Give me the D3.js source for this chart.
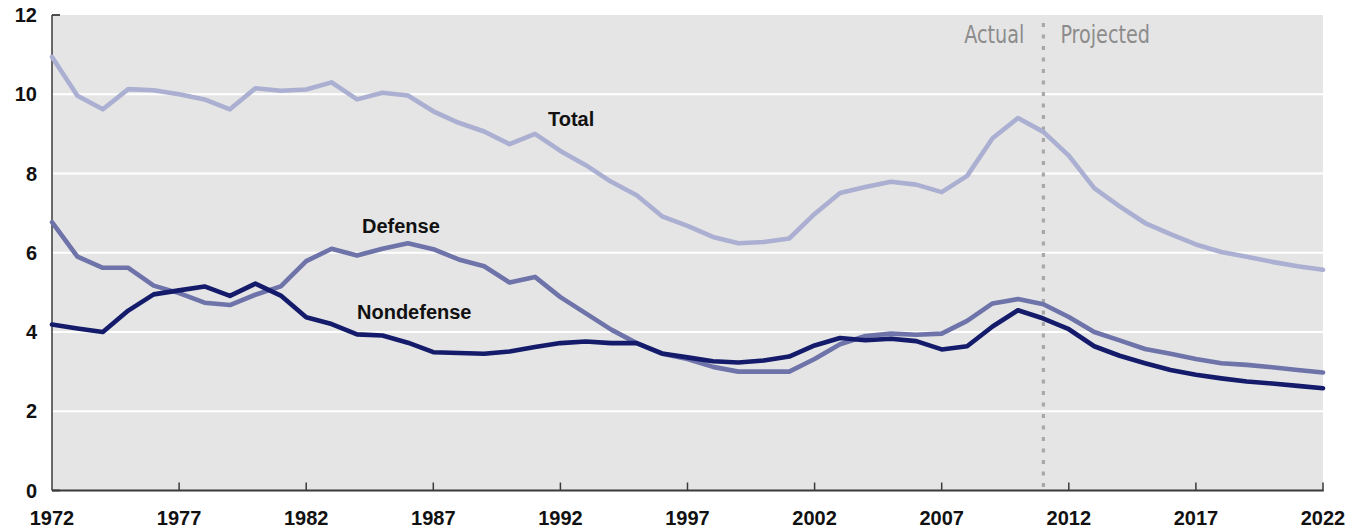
<!DOCTYPE html>
<html>
<head>
<meta charset="utf-8">
<script src="https://cdn.jsdelivr.net/npm/d3@7"></script>
<style>
  body { margin: 0; background: #fff; }
  svg { display: block; }
  .tick-label { font-family: "Liberation Sans", Arial, sans-serif; font-weight: bold; font-size: 20px; fill: #111; }
  .series-label { font-family: "Liberation Sans", Arial, sans-serif; font-weight: bold; font-size: 20px; fill: #111; }
  .period-label { font-family: "Liberation Sans Narrow", "DejaVu Sans Condensed", sans-serif; font-size: 24px; fill: #8c8c8c; }
</style>
</head>
<body>
<div id="chart"></div>
<script>
// years 1972..2022
const years = d3.range(1972, 2023);

const total = [
  10.94, 9.96, 9.62, 10.13, 10.10, 10.00, 9.87, 9.62, 10.15, 10.09,
  10.12, 10.30, 9.87, 10.04, 9.97, 9.57, 9.28, 9.06, 8.74, 9.00,
  8.57, 8.21, 7.79, 7.45, 6.92, 6.68, 6.40, 6.24, 6.27, 6.36,
  6.98, 7.51, 7.66, 7.79, 7.72, 7.53, 7.94, 8.89, 9.40, 9.05,
  8.45, 7.63, 7.17, 6.75, 6.47, 6.21, 6.02, 5.90, 5.77, 5.66,
  5.57
];

const defense = [
  6.77, 5.90, 5.62, 5.62, 5.17, 4.98, 4.74, 4.68, 4.94, 5.15,
  5.79, 6.10, 5.93, 6.10, 6.24, 6.09, 5.83, 5.66, 5.25, 5.39,
  4.88, 4.47, 4.06, 3.72, 3.45, 3.32, 3.12, 3.00, 3.00, 3.00,
  3.32, 3.69, 3.90, 3.96, 3.93, 3.96, 4.28, 4.72, 4.83, 4.70,
  4.38, 4.00, 3.79, 3.57, 3.45, 3.32, 3.21, 3.17, 3.11, 3.04,
  2.98
];

const nondefense = [
  4.19, 4.09, 4.00, 4.54, 4.95, 5.05, 5.15, 4.91, 5.22, 4.92,
  4.37, 4.20, 3.94, 3.91, 3.73, 3.49, 3.47, 3.45, 3.51, 3.62,
  3.72, 3.76, 3.72, 3.72, 3.46, 3.36, 3.26, 3.23, 3.28, 3.38,
  3.66, 3.85, 3.79, 3.83, 3.77, 3.56, 3.64, 4.14, 4.55, 4.34,
  4.07, 3.64, 3.40, 3.21, 3.04, 2.92, 2.83, 2.75, 2.70, 2.64,
  2.58
];

const yTicks = [0, 2, 4, 6, 8, 10, 12];
const xTicks = [1972, 1977, 1982, 1987, 1992, 1997, 2002, 2007, 2012, 2017, 2022];
const splitYear = 2011;

const series = [
  { name: "Total", values: total, color: "#abafd1" },
  { name: "Defense", values: defense, color: "#6e73a9" },
  { name: "Nondefense", values: nondefense, color: "#141b6b" }
];

// label spots (px)
const labelPos = {
  Total: [548, 126],
  Defense: [362, 233],
  Nondefense: [357, 319]
};

const W = 1359, H = 529;
const margin = { top: 15, right: 36, bottom: 38.5, left: 52 };

const svg = d3.select("#chart")
  .append("svg")
  .attr("width", W)
  .attr("height", H);

const x = d3.scaleLinear()
  .domain([1972, 2022])
  .range([margin.left, W - margin.right]);

const y = d3.scaleLinear()
  .domain([0, 12])
  .range([H - margin.bottom, margin.top]);

// plot background
svg.append("rect")
  .attr("x", x(1972))
  .attr("y", y(12))
  .attr("width", x(2022) - x(1972))
  .attr("height", y(0) - y(12))
  .attr("fill", "#e5e5e5");

// gridlines
svg.selectAll("line.grid")
  .data(yTicks.filter(d => d > 0 && d < 12))
  .enter()
  .append("line")
    .attr("class", "grid")
    .attr("x1", x(1972))
    .attr("x2", x(2022))
    .attr("y1", d => y(d))
    .attr("y2", d => y(d))
    .attr("stroke", "#fff")
    .attr("stroke-width", 1.8);

// actual / projected divider
svg.append("line")
  .attr("x1", x(splitYear))
  .attr("x2", x(splitYear))
  .attr("y1", y(11.8))
  .attr("y2", y(0))
  .attr("stroke", "#a8a8a8")
  .attr("stroke-width", 3.2)
  .attr("stroke-dasharray", "4,7.5");

// condensed look for the period labels
const sx = 0.89;
svg.append("text")
  .attr("class", "period-label")
  .attr("transform", `scale(${sx},1)`)
  .attr("x", (x(splitYear) - 19) / sx)
  .attr("y", 43)
  .attr("text-anchor", "end")
  .text("Actual");

svg.append("text")
  .attr("class", "period-label")
  .attr("transform", `scale(${sx},1)`)
  .attr("x", (x(splitYear) + 17) / sx)
  .attr("y", 43)
  .text("Projected");

// axes
const axisColor = "#3a3a3a";

svg.append("line")
  .attr("x1", x(1972))
  .attr("x2", x(1972))
  .attr("y1", y(12))
  .attr("y2", y(0))
  .attr("stroke", axisColor)
  .attr("stroke-width", 1.5);

svg.append("line")
  .attr("x1", x(1972))
  .attr("x2", x(2022) + 0.75)
  .attr("y1", y(0))
  .attr("y2", y(0))
  .attr("stroke", axisColor)
  .attr("stroke-width", 1.8);

// y end ticks point inward
svg.selectAll("line.ytick")
  .data([0, 12])
  .enter()
  .append("line")
    .attr("x1", x(1972))
    .attr("x2", x(1972) + 8)
    .attr("y1", d => y(d))
    .attr("y2", d => y(d))
    .attr("stroke", axisColor)
    .attr("stroke-width", 1.8);

svg.selectAll("line.xtick")
  .data(xTicks.slice(1))
  .enter()
  .append("line")
    .attr("x1", d => x(d))
    .attr("x2", d => x(d))
    .attr("y1", y(0))
    .attr("y2", y(0) - 8)
    .attr("stroke", axisColor)
    .attr("stroke-width", 1.5);

svg.selectAll("text.ylab")
  .data(yTicks)
  .enter()
  .append("text")
    .attr("class", "tick-label")
    .attr("x", 37)
    .attr("y", d => y(d))
    .attr("dy", "0.36em")
    .attr("text-anchor", "end")
    .text(d => d);

svg.selectAll("text.xlab")
  .data(xTicks)
  .enter()
  .append("text")
    .attr("class", "tick-label")
    .attr("x", d => x(d))
    .attr("y", 525)
    .attr("text-anchor", "middle")
    .text(d => d);

// lines
const line = d3.line()
  .x((d, i) => x(years[i]))
  .y(d => y(d));

svg.selectAll("path.series")
  .data(series)
  .enter()
  .append("path")
    .attr("class", "series")
    .attr("d", d => line(d.values))
    .attr("fill", "none")
    .attr("stroke", d => d.color)
    .attr("stroke-width", 4.6)
    .attr("stroke-linejoin", "round")
    .attr("stroke-linecap", "round");

svg.selectAll("text.series-label")
  .data(series)
  .enter()
  .append("text")
    .attr("class", "series-label")
    .attr("x", d => labelPos[d.name][0])
    .attr("y", d => labelPos[d.name][1])
    .text(d => d.name);
</script>
</body>
</html>
